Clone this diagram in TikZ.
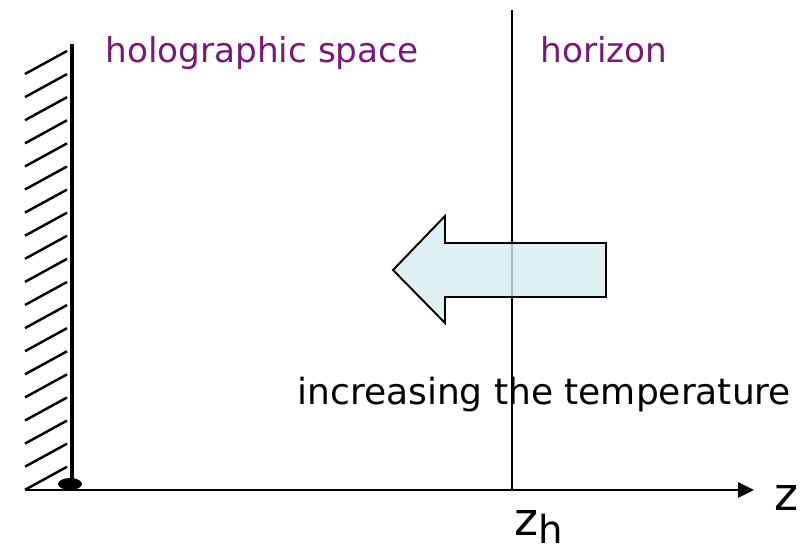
\documentclass[tikz,border=0pt]{standalone}
\usepackage{fontspec}
\setmainfont{DejaVu Sans}
\definecolor{Holo}{RGB}{122,24,122}
\definecolor{Heat}{RGB}{214,236,239}
\usetikzlibrary{arrows.meta,positioning}

\begin{document}
\begin{tikzpicture}[x=0.02cm,y=-0.02cm,
  lbl/.style={anchor=base west,inner sep=0pt,font=\fontsize{19.5}{22}\selectfont},
  big/.style={anchor=base west,inner sep=0pt,font=\fontsize{26}{30}\selectfont}]
  \useasboundingbox (0,0) rectangle (809,554);
  % hatched wall
  \foreach \k in {0,...,18}
    \draw[line width=1.4pt] (25,{74+23.1*\k}) -- (67,{51+23.1*\k});
  \draw[line width=2.7pt] (72,44) -- (72,486);
  \fill (70,484) ellipse [x radius=12,y radius=6];
  % z axis and horizon
  \coordinate (zorig) at (25,490);
  \coordinate (zend) at (754,490);
  \draw[line width=1.6pt,-{Triangle[length=0.32cm,width=0.3cm]}] (zorig) -- (zend);
  \coordinate (htop) at (512,10);
  \coordinate (hbot) at (512,490);
  \draw[line width=1pt] (htop) -- (hbot);
  % fat arrow
  \filldraw[fill=Heat,fill opacity=0.8,line width=1.1pt,line join=miter]
    (606,243) -- (445,243) -- (445,216) -- (393,270) -- (445,323)
    -- (445,297) -- (606,297) -- cycle;
  % labels
  \node[lbl,Holo] (holo) at (105,63) {holographic space};
  \node[lbl,Holo] (horizon) at (540,63) {horizon};
  \node[lbl,font=\fontsize{20.5}{24}\selectfont] (heat) at (297,404) {increasing the temperature};
  \node[big] (zlbl) at (774,510) {z};
  \node[big] (zh) at (514,535) {z\raisebox{-5pt}{\fontsize{22}{24}\selectfont h}};
\end{tikzpicture}
\end{document}
